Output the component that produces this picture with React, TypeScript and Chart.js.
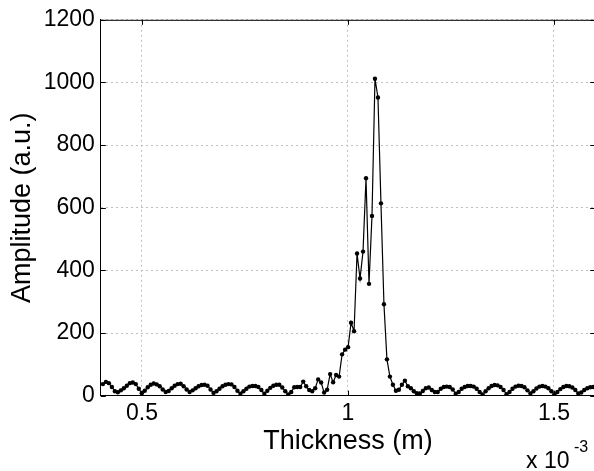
import React, { useEffect, useRef } from "react";
import { Chart, registerables } from "chart.js";

Chart.register(...registerables);

// Thickness axis (units of 1e-3 m): uniformly sampled
const X_START = 0.4051;
const X_STEP = 0.007257;

const AMPLITUDE: number[] = [
  37, 44, 40, 28, 14, 11, 17, 24, 32, 40,
  42, 37, 22, 8, 16, 27, 35, 39, 36, 30,
  20, 12, 15, 24, 32, 37, 38, 30, 20, 12,
  17, 24, 30, 34, 35, 32, 20, 9, 14, 22,
  30, 35, 37, 36, 28, 16, 6, 14, 22, 29,
  31, 31, 28, 18, 6, 16, 25, 32, 35, 35,
  26, 14, 4, 12, 27, 28, 28, 45, 30, 18,
  14, 24, 52, 42, 10, 19, 69, 43, 66, 61,
  132, 147, 155, 233, 206, 454, 374, 460, 694, 357,
  574, 1012, 952, 614, 292, 116, 61, 35, 16, 19,
  35, 48, 30, 24, 14, 8, 7, 15, 24, 26,
  18, 12, 12, 22, 28, 29, 28, 20, 6, 12,
  22, 28, 31, 31, 29, 22, 12, 4, 14, 24,
  31, 34, 33, 28, 18, 5, 12, 22, 29, 32,
  31, 27, 17, 7, 14, 23, 29, 31, 29, 24,
  14, 5, 12, 21, 28, 31, 30, 26, 18, 7,
  10, 18, 24, 27, 28,
];

const X_TICKS = [0.5, 1, 1.5];
const X_TICK_LABELS = ["0.5", "1", "1.5"];
const Y_TICKS = [0, 200, 400, 600, 800, 1000, 1200];
const Y_TICK_LABELS = ["0", "200", "400", "600", "800", "1000", "1200"];

const X_TITLE = "Thickness (m)";
const Y_TITLE = "Amplitude (a.u.)";

const FONT = "'Liberation Sans', Arial, Helvetica, sans-serif";

const boxPlugin = {
  id: "boxPlugin",
  afterDraw(chart: any) {
    const { ctx, chartArea, scales } = chart;
    const { left, right, top, bottom } = chartArea;
    ctx.save();
    ctx.strokeStyle = "#000";
    ctx.lineWidth = 1;
    ctx.setLineDash([]);
    ctx.beginPath();
    ctx.moveTo(left, top + 0.5);
    ctx.lineTo(right, top + 0.5);
    ctx.moveTo(right - 0.5, top);
    ctx.lineTo(right - 0.5, bottom);
    // inward ticks
    const tl = 5;
    X_TICKS.forEach((v) => {
      const px = Math.round(scales.x.getPixelForValue(v)) + 0.5;
      ctx.moveTo(px, bottom);
      ctx.lineTo(px, bottom - tl);
      ctx.moveTo(px, top);
      ctx.lineTo(px, top + tl);
    });
    Y_TICKS.forEach((v) => {
      const py = Math.round(scales.y.getPixelForValue(v)) + 0.5;
      ctx.moveTo(left, py);
      ctx.lineTo(left + tl, py);
      ctx.moveTo(right, py);
      ctx.lineTo(right - tl, py);
    });
    ctx.stroke();
    // exponent label
    ctx.fillStyle = "#000";
    ctx.textBaseline = "alphabetic";
    ctx.textAlign = "left";
    ctx.font = `23px ${FONT}`;
    ctx.fillText("x 10", 526, 468);
    ctx.font = `16px ${FONT}`;
    ctx.fillText("-3", 574, 452);
    ctx.restore();
  },
};

export default function App() {
  const ref = useRef<HTMLCanvasElement>(null);

  useEffect(() => {
    const canvas = ref.current!;
    const points = AMPLITUDE.map((y, i) => ({ x: X_START + i * X_STEP, y }));
    const chart = new Chart(canvas, {
      type: "line",
      data: {
        datasets: [
          {
            data: points,
            borderColor: "#000",
            borderWidth: 1.2,
            pointRadius: 2.2,
            pointBackgroundColor: "#000",
            pointBorderColor: "#000",
            pointBorderWidth: 0,
            tension: 0,
            fill: false,
          },
        ],
      },
      options: {
        responsive: false,
        animation: false,
        devicePixelRatio: 1,
        layout: { padding: { left: 0, right: 4.8, top: 15.3, bottom: 0 } },
        plugins: {
          legend: { display: false },
          tooltip: { enabled: false },
        },
        scales: {
          x: {
            type: "linear",
            min: 0.4,
            max: 1.6,
            afterBuildTicks: (s: any) => {
              s.ticks = X_TICKS.map((v) => ({ value: v }));
            },
            afterFit: (s: any) => {
              s.height = 75.3;
            },
            ticks: {
              color: "#000",
              font: { family: FONT, size: 23 },
              padding: 4,
              maxRotation: 0,
              autoSkip: false,
              callback: (v: any) => {
                const i = X_TICKS.indexOf(Number(v));
                return i >= 0 ? X_TICK_LABELS[i] : "";
              },
            },
            grid: {
              color: "#c0c0c0",
              lineWidth: 1,
              drawTicks: false,
            },
            border: { display: true, color: "#000", width: 1, dash: [2, 3] } as any,
            title: {
              display: true,
              text: X_TITLE,
              color: "#000",
              font: { family: FONT, size: 27 },
              padding: { top: 0, bottom: 13 },
            },
          },
          y: {
            type: "linear",
            min: 0,
            max: 1200,
            afterBuildTicks: (s: any) => {
              s.ticks = Y_TICKS.map((v) => ({ value: v }));
            },
            afterFit: (s: any) => {
              s.width = 100.8;
            },
            ticks: {
              color: "#000",
              font: { family: FONT, size: 23 },
              padding: 6,
              autoSkip: false,
              callback: (v: any) => {
                const i = Y_TICKS.indexOf(Number(v));
                return i >= 0 ? Y_TICK_LABELS[i] : "";
              },
            },
            grid: {
              color: "#c0c0c0",
              lineWidth: 1,
              drawTicks: false,
            },
            border: { display: true, color: "#000", width: 1, dash: [2, 3] } as any,
            title: {
              display: true,
              text: Y_TITLE,
              color: "#000",
              font: { family: FONT, size: 27 },
              padding: { top: 6, bottom: 0 },
            },
          },
        },
      },
      plugins: [boxPlugin],
    } as any);
    return () => chart.destroy();
  }, []);

  return (
    <div
      style={{
        position: "fixed",
        left: 0,
        top: 0,
        width: 594,
        height: 471,
        overflow: "hidden",
        background: "#fff",
      }}
    >
      <canvas ref={ref} width={600} height={471} style={{ display: "block" }} />
    </div>
  );
}
